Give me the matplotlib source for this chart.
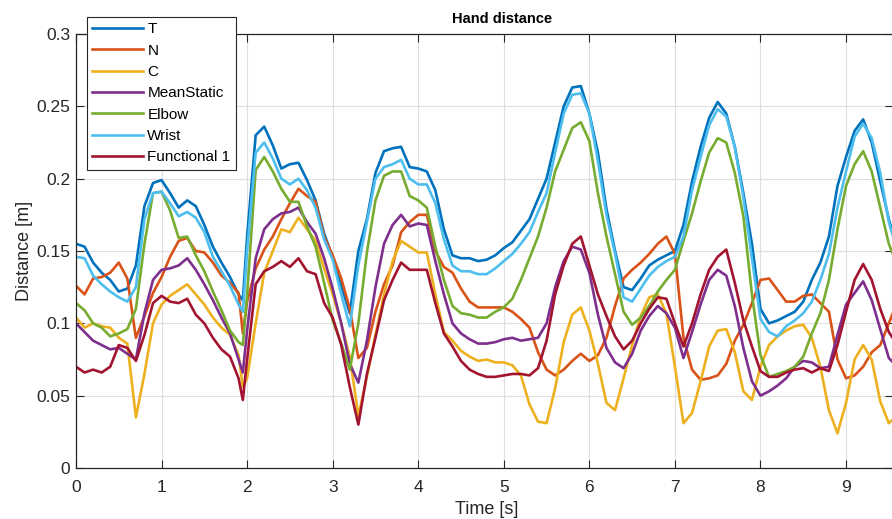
import numpy as np
import matplotlib
matplotlib.use("Agg")
import matplotlib.pyplot as plt

# time samples [s] (extra sample at 1.95 to keep the dip)
time = [0.0, 0.1, 0.2, 0.3, 0.4, 0.5, 0.6, 0.7, 0.8, 0.9,
        1.0, 1.1, 1.2, 1.3, 1.4, 1.5, 1.6, 1.7, 1.8, 1.9, 1.95,
        2.0, 2.1, 2.2, 2.3, 2.4, 2.5, 2.6, 2.7, 2.8, 2.9,
        3.0, 3.1, 3.2, 3.3, 3.4, 3.5, 3.6, 3.7, 3.8, 3.9,
        4.0, 4.1, 4.2, 4.3, 4.4, 4.5, 4.6, 4.7, 4.8, 4.9,
        5.0, 5.1, 5.2, 5.3, 5.4, 5.5, 5.6, 5.7, 5.8, 5.9,
        6.0, 6.1, 6.2, 6.3, 6.4, 6.5, 6.6, 6.7, 6.8, 6.9,
        7.0, 7.1, 7.2, 7.3, 7.4, 7.5, 7.6, 7.7, 7.8, 7.9,
        8.0, 8.1, 8.2, 8.3, 8.4, 8.5, 8.6, 8.7, 8.8, 8.9,
        9.0, 9.1, 9.2, 9.3, 9.4, 9.5, 9.6]

T = [0.155, 0.153, 0.142, 0.135, 0.130, 0.122, 0.124, 0.140, 0.181, 0.197,
     0.199, 0.190, 0.180, 0.185, 0.181, 0.168, 0.153, 0.142, 0.132, 0.120, 0.116,
     0.160, 0.230, 0.236, 0.223, 0.207, 0.210, 0.211, 0.199, 0.185, 0.162,
     0.146, 0.126, 0.107, 0.150, 0.172, 0.204, 0.219, 0.221, 0.222, 0.208,
     0.207, 0.205, 0.192, 0.165, 0.147, 0.145, 0.145, 0.143, 0.144, 0.147,
     0.152, 0.156, 0.164, 0.172, 0.186, 0.200, 0.225, 0.250, 0.263, 0.264,
     0.245, 0.218, 0.179, 0.150, 0.125, 0.123, 0.131, 0.140, 0.144, 0.147,
     0.150, 0.168, 0.198, 0.222, 0.242, 0.253, 0.245, 0.222, 0.190, 0.155,
     0.110, 0.100, 0.102, 0.105, 0.108, 0.115, 0.130, 0.142, 0.160, 0.195,
     0.215, 0.233, 0.241, 0.225, 0.198, 0.172, 0.150]

N = [0.126, 0.120, 0.131, 0.132, 0.135, 0.142, 0.131, 0.090, 0.105, 0.121,
     0.132, 0.146, 0.157, 0.159, 0.150, 0.149, 0.142, 0.133, 0.128, 0.121, 0.093,
     0.115, 0.138, 0.151, 0.160, 0.172, 0.183, 0.193, 0.188, 0.184, 0.160,
     0.147, 0.131, 0.110, 0.076, 0.083, 0.108, 0.127, 0.140, 0.163, 0.170,
     0.175, 0.175, 0.150, 0.139, 0.135, 0.124, 0.115, 0.111, 0.111, 0.111,
     0.111, 0.108, 0.103, 0.097, 0.080, 0.068, 0.064, 0.068, 0.074, 0.079,
     0.074, 0.078, 0.090, 0.112, 0.131, 0.137, 0.142, 0.148, 0.155, 0.160,
     0.148, 0.090, 0.068, 0.061, 0.062, 0.064, 0.072, 0.088, 0.099, 0.114,
     0.130, 0.131, 0.123, 0.115, 0.115, 0.119, 0.120, 0.114, 0.108, 0.075,
     0.062, 0.064, 0.070, 0.080, 0.085, 0.100, 0.115]

C = [0.104, 0.097, 0.100, 0.098, 0.097, 0.090, 0.086, 0.035, 0.065, 0.100,
     0.113, 0.119, 0.123, 0.127, 0.120, 0.113, 0.104, 0.097, 0.092, 0.078, 0.056,
     0.062, 0.100, 0.135, 0.150, 0.165, 0.163, 0.173, 0.165, 0.157, 0.138,
     0.120, 0.100, 0.077, 0.036, 0.063, 0.092, 0.120, 0.143, 0.157, 0.153,
     0.149, 0.149, 0.120, 0.094, 0.088, 0.081, 0.077, 0.074, 0.075, 0.073,
     0.073, 0.071, 0.064, 0.044, 0.032, 0.031, 0.055, 0.087, 0.106, 0.111,
     0.095, 0.072, 0.045, 0.040, 0.062, 0.085, 0.105, 0.118, 0.120, 0.107,
     0.070, 0.031, 0.038, 0.060, 0.084, 0.095, 0.096, 0.080, 0.053, 0.047,
     0.070, 0.085, 0.091, 0.095, 0.098, 0.099, 0.090, 0.070, 0.040, 0.024,
     0.045, 0.075, 0.085, 0.075, 0.046, 0.031, 0.036]

mean_static = [0.100, 0.094, 0.088, 0.085, 0.082, 0.083, 0.079, 0.075, 0.107, 0.130,
               0.137, 0.138, 0.140, 0.145, 0.137, 0.127, 0.116, 0.104, 0.093, 0.075, 0.066,
               0.095, 0.145, 0.165, 0.172, 0.176, 0.177, 0.180, 0.170, 0.162, 0.145,
               0.124, 0.100, 0.072, 0.059, 0.088, 0.125, 0.155, 0.168, 0.175, 0.167,
               0.169, 0.168, 0.143, 0.120, 0.100, 0.093, 0.089, 0.086, 0.086, 0.087,
               0.089, 0.090, 0.088, 0.089, 0.090, 0.100, 0.125, 0.143, 0.153, 0.151,
               0.135, 0.106, 0.083, 0.073, 0.069, 0.079, 0.095, 0.105, 0.112, 0.107,
               0.097, 0.076, 0.094, 0.113, 0.130, 0.137, 0.133, 0.112, 0.083, 0.060,
               0.050, 0.053, 0.057, 0.062, 0.070, 0.074, 0.073, 0.069, 0.070, 0.092,
               0.113, 0.121, 0.129, 0.116, 0.096, 0.076, 0.070]

elbow = [0.114, 0.109, 0.100, 0.097, 0.091, 0.093, 0.096, 0.110, 0.155, 0.190,
         0.191, 0.178, 0.159, 0.160, 0.147, 0.136, 0.122, 0.109, 0.095, 0.087, 0.085,
         0.120, 0.206, 0.215, 0.205, 0.193, 0.184, 0.184, 0.167, 0.153, 0.128,
         0.102, 0.086, 0.068, 0.100, 0.149, 0.185, 0.202, 0.205, 0.205, 0.188,
         0.185, 0.180, 0.153, 0.130, 0.112, 0.107, 0.106, 0.104, 0.104, 0.108,
         0.111, 0.117, 0.130, 0.145, 0.160, 0.180, 0.205, 0.220, 0.235, 0.239,
         0.226, 0.190, 0.160, 0.134, 0.108, 0.099, 0.104, 0.112, 0.122, 0.130,
         0.137, 0.157, 0.176, 0.198, 0.218, 0.228, 0.225, 0.204, 0.174, 0.120,
         0.078, 0.063, 0.065, 0.067, 0.070, 0.077, 0.093, 0.107, 0.130, 0.165,
         0.195, 0.210, 0.219, 0.205, 0.180, 0.155, 0.140]

wrist = [0.146, 0.145, 0.133, 0.127, 0.122, 0.118, 0.115, 0.125, 0.172, 0.190,
         0.191, 0.183, 0.174, 0.177, 0.173, 0.163, 0.146, 0.136, 0.126, 0.113, 0.108,
         0.150, 0.218, 0.225, 0.214, 0.200, 0.196, 0.200, 0.192, 0.180, 0.158,
         0.144, 0.120, 0.098, 0.140, 0.170, 0.200, 0.208, 0.210, 0.213, 0.200,
         0.196, 0.196, 0.183, 0.158, 0.140, 0.136, 0.136, 0.134, 0.134, 0.138,
         0.143, 0.148, 0.155, 0.163, 0.177, 0.190, 0.218, 0.245, 0.258, 0.259,
         0.245, 0.212, 0.175, 0.148, 0.118, 0.115, 0.124, 0.133, 0.139, 0.143,
         0.146, 0.160, 0.192, 0.215, 0.237, 0.248, 0.243, 0.222, 0.187, 0.145,
         0.103, 0.094, 0.091, 0.098, 0.102, 0.107, 0.115, 0.130, 0.148, 0.180,
         0.205, 0.229, 0.238, 0.228, 0.204, 0.170, 0.150]

functional1 = [0.070, 0.066, 0.068, 0.066, 0.070, 0.085, 0.083, 0.074, 0.092, 0.114,
               0.119, 0.115, 0.114, 0.117, 0.106, 0.100, 0.090, 0.082, 0.077, 0.062, 0.047,
               0.075, 0.127, 0.136, 0.139, 0.143, 0.139, 0.145, 0.136, 0.134, 0.114,
               0.104, 0.085, 0.056, 0.030, 0.065, 0.090, 0.116, 0.130, 0.142, 0.137,
               0.137, 0.137, 0.114, 0.093, 0.084, 0.074, 0.068, 0.065, 0.063, 0.063,
               0.064, 0.065, 0.065, 0.064, 0.069, 0.088, 0.120, 0.140, 0.155, 0.160,
               0.140, 0.120, 0.105, 0.091, 0.082, 0.088, 0.100, 0.110, 0.118, 0.117,
               0.100, 0.084, 0.100, 0.120, 0.137, 0.146, 0.151, 0.128, 0.102, 0.084,
               0.067, 0.063, 0.063, 0.066, 0.068, 0.069, 0.066, 0.069, 0.067, 0.085,
               0.108, 0.130, 0.141, 0.130, 0.110, 0.094, 0.085]

labels = ["T", "N", "C", "MeanStatic", "Elbow", "Wrist", "Functional 1"]
series = [T, N, C, mean_static, elbow, wrist, functional1]
colors = ["#0072BD", "#D95319", "#EDB120", "#7E2F8E", "#77AC30", "#4DBEEE", "#A2142F"]

plt.rcParams["font.family"] = ["Liberation Sans", "DejaVu Sans"]
dark = "#262626"

fig = plt.figure(figsize=(8.92, 5.19), dpi=100)
ax = fig.add_axes([76 / 892, 51 / 519, 817 / 892, 434 / 519])

for y, lab, col in zip(series, labels, colors):
    ax.plot(time, y, color=col, lw=1.9, label=lab)

ax.set_xlim(0, 817 / 85.56)
ax.set_ylim(0, 0.3)
ax.set_xticks(range(10))
ax.set_yticks([0, 0.05, 0.1, 0.15, 0.2, 0.25, 0.3])
ax.set_yticklabels(["0", "0.05", "0.1", "0.15", "0.2", "0.25", "0.3"])
ax.grid(True, color="#dfdfdf", lw=0.8)
ax.set_axisbelow(True)
ax.tick_params(direction="in", top=True, right=True, length=5.5, width=0.8,
               colors=dark, labelsize=12.5)
ax.tick_params(axis="x", pad=8.8)
ax.tick_params(axis="y", pad=4)
for s in ax.spines.values():
    s.set_color(dark)
    s.set_linewidth(0.9)

ax.set_title("Hand distance", fontsize=10.5, fontweight="bold", color="black",
             pad=8, x=(502 - 76) / 817)
ax.set_xlabel("Time [s]", fontsize=13, color=dark)
ax.set_ylabel("Distance [m]", fontsize=13, color=dark)
ax.xaxis.set_label_coords((487 - 76) / 817, -0.077)
ax.yaxis.set_label_coords(-0.0525, 0.5)

leg = ax.legend(loc="upper left", bbox_to_anchor=(87 / 892, 1 - 17 / 519),
                bbox_transform=fig.transFigure, borderaxespad=0, fontsize=11,
                handlelength=3.3, handletextpad=0.3, labelspacing=0.48,
                borderpad=0.35, fancybox=False, framealpha=1, edgecolor=dark)
leg.get_frame().set_linewidth(0.8)

fig.savefig("out.png", dpi=100)
